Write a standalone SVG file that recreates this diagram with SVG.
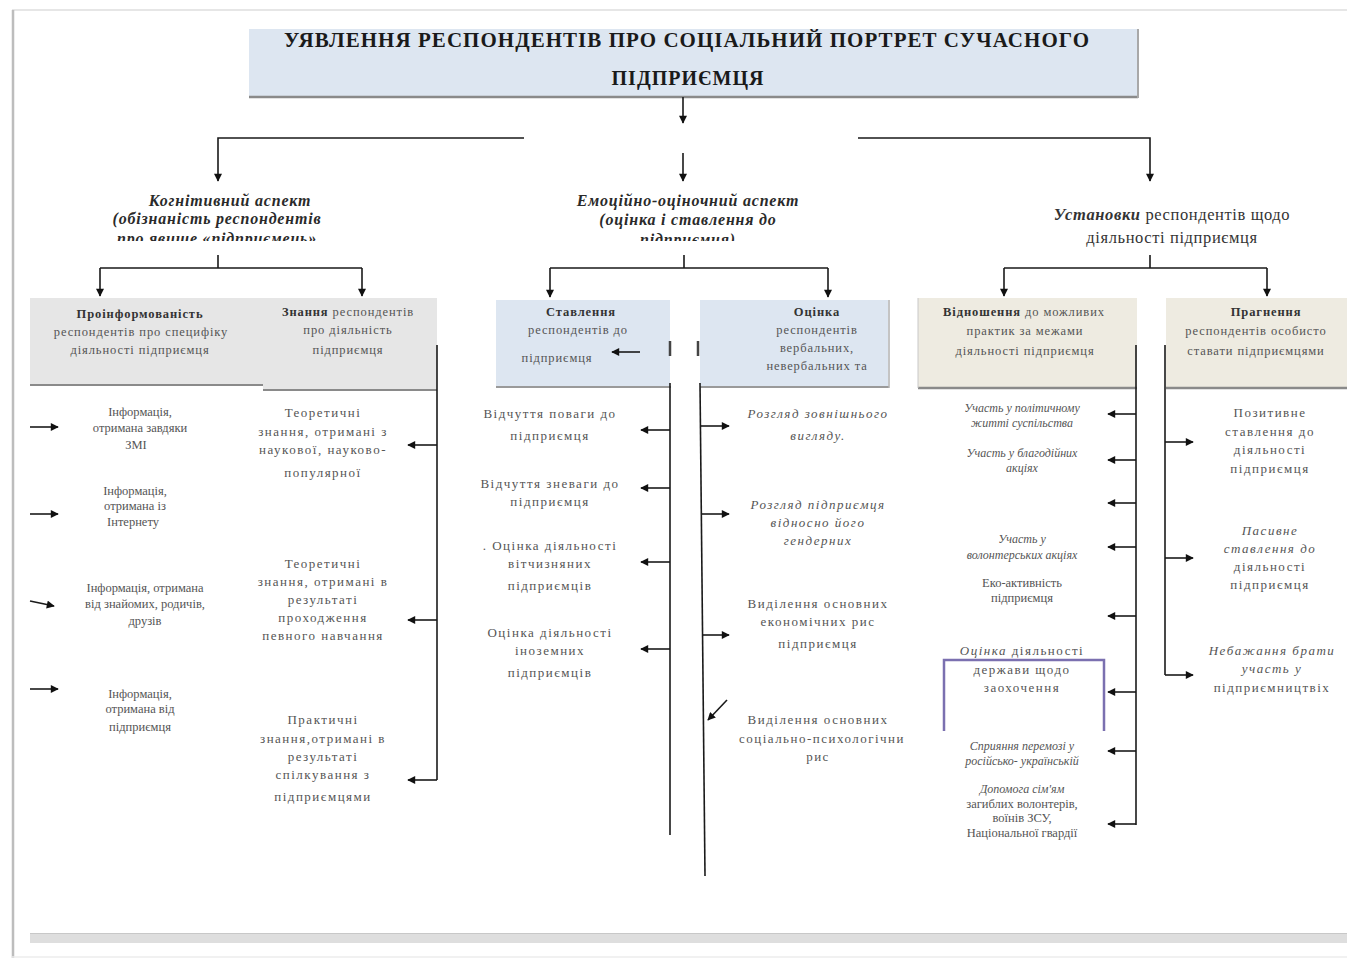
<svg xmlns="http://www.w3.org/2000/svg" width="1347" height="958" viewBox="0 0 1347 958">
<defs>
<marker id="ah" viewBox="0 0 10 10" refX="9" refY="5" markerWidth="9" markerHeight="8" orient="auto" markerUnits="userSpaceOnUse">
<path d="M0,0 L10,5 L0,10 z" fill="#111"/>
</marker>
<clipPath id="hclip"><rect x="0" y="0" width="1347" height="241"/></clipPath>
<style>
.t{font-family:"Liberation Serif","DejaVu Serif",serif;fill:#444;text-anchor:middle}
.title{font-family:"Liberation Serif","DejaVu Serif",serif;font-weight:bold;font-size:20px;fill:#1a1a1a;text-anchor:middle;letter-spacing:1px}
.hd{font-family:"Liberation Serif","DejaVu Serif",serif;font-weight:bold;font-style:italic;font-size:16px;letter-spacing:0.8px;fill:#2a2a2a;text-anchor:middle}
.hr{font-family:"Liberation Serif","DejaVu Serif",serif;font-size:16.5px;letter-spacing:0.6px;fill:#333;text-anchor:middle}
.bx{font-size:12.5px;letter-spacing:0.9px;fill:#555}
.it{font-size:13px;letter-spacing:1.5px;fill:#555}
.sm{font-size:12.5px;fill:#555}
.xs{font-size:12px;fill:#555;font-style:italic}
.i{font-style:italic}
.b{font-weight:bold;fill:#333}
.ln{stroke:#1a1a1a;stroke-width:1.6;fill:none}
.ar{stroke:#1a1a1a;stroke-width:1.6;fill:none;marker-end:url(#ah)}
</style>
</defs>
<rect x="0" y="0" width="1347" height="958" fill="#ffffff"/>
<g id="frame">
<line x1="12" y1="10" x2="1347" y2="10" stroke="#e6e6e6" stroke-width="2"/>
<line x1="13" y1="10" x2="13" y2="958" stroke="#bdbdbd" stroke-width="2.5"/>
<rect x="30" y="933" width="1317" height="10" fill="#dedede"/>
<line x1="30" y1="933.5" x2="1347" y2="933.5" stroke="#c8c8c8" stroke-width="1"/>
<line x1="12" y1="957" x2="1347" y2="957" stroke="#ececec" stroke-width="1.5"/>
</g>
<g id="title">
<rect x="249" y="29" width="889" height="68" fill="#dde6f1"/>
<line x1="249" y1="97" x2="1138" y2="97" stroke="#8a8a8a" stroke-width="2.5"/>
<line x1="1138" y1="29" x2="1138" y2="98" stroke="#a8a8a8" stroke-width="2"/>
<text class="title" x="687" y="47" textLength="806" lengthAdjust="spacingAndGlyphs">УЯВЛЕННЯ  РЕСПОНДЕНТІВ ПРО СОЦІАЛЬНИЙ ПОРТРЕТ СУЧАСНОГО</text>
<text class="title" x="688" y="85">ПІДПРИЄМЦЯ</text>
</g>
<g id="head-cognitive" clip-path="url(#hclip)">
<text class="hd" x="230" y="206">Когнітивний аспект</text>
<text class="hd" x="217" y="224">(обізнаність респондентів</text>
<text class="hd" x="217" y="244">про явище «підприємець»</text>
</g>
<g id="head-emotional" clip-path="url(#hclip)">
<text class="hd" x="688" y="206">Емоційно-оціночний аспект</text>
<text class="hd" x="688" y="225">(оцінка і ставлення до</text>
<text class="hd" x="688" y="245">підприємця)</text>
</g>
<g id="head-attitudes">
<text class="hr" x="1172" y="220"><tspan class="b i">Установки</tspan> респондентів щодо</text>
<text class="hr" x="1172" y="243">діяльності підприємця</text>
</g>
<g id="box-informed">
<rect x="30" y="298" width="233" height="87" fill="#e6e6e6"/>
<line x1="30" y1="385" x2="263" y2="385" stroke="#8a8a8a" stroke-width="2"/>
<text class="t bx" x="140" y="318"><tspan class="b">Проінформованість</tspan></text>
<text class="t bx" x="141" y="336">респондентів   про   специфіку</text>
<text class="t bx" x="140" y="354">діяльності   підприємця</text>
</g>
<g id="box-knowledge">
<rect x="263" y="298" width="174" height="92" fill="#e6e6e6"/>
<line x1="263" y1="390" x2="437" y2="390" stroke="#8a8a8a" stroke-width="2"/>
<text class="t bx" x="348" y="316"><tspan class="b">Знання</tspan>   респондентів</text>
<text class="t bx" x="348" y="334">про  діяльність</text>
<text class="t bx" x="348" y="354">підприємця</text>
</g>
<g id="box-stavlennia">
<rect x="496" y="300" width="174" height="87" fill="#dde6f1"/>
<line x1="496" y1="387" x2="671" y2="387" stroke="#9a9a9a" stroke-width="2"/>
<text class="t bx" x="581" y="316"><tspan class="b">Ставлення</tspan></text>
<text class="t bx" x="578" y="334">респондентів   до</text>
<text class="t bx" x="557" y="362">підприємця</text>
</g>
<g id="box-otsinka">
<rect x="700" y="300" width="188" height="87" fill="#dde6f1"/>
<line x1="700" y1="387" x2="889" y2="387" stroke="#9a9a9a" stroke-width="2"/>
<line x1="889" y1="300" x2="889" y2="388" stroke="#b0b0b0" stroke-width="1.5"/>
<text class="t bx" x="817" y="316"><tspan class="b">Оцінка</tspan></text>
<text class="t bx" x="817" y="334">респондентів</text>
<text class="t bx" x="817" y="352">вербальних,</text>
<text class="t bx" x="817" y="370">невербальних    та</text>
</g>
<g id="box-vidnoshennia">
<rect x="918" y="298" width="219" height="90" fill="#eeebe1"/>
<line x1="918" y1="388" x2="1137" y2="388" stroke="#8a8a8a" stroke-width="2.5"/>
<line x1="918" y1="298" x2="918" y2="388" stroke="#c8c8c8" stroke-width="1"/>
<text class="t bx" x="1024" y="316"><tspan class="b">Відношення</tspan>    до можливих</text>
<text class="t bx" x="1025" y="335">практик  за межами</text>
<text class="t bx" x="1025" y="355">діяльності   підприємця</text>
</g>
<g id="box-pragnennia">
<rect x="1166" y="298" width="181" height="90" fill="#eeebe1"/>
<line x1="1166" y1="388" x2="1347" y2="388" stroke="#8a8a8a" stroke-width="2.5"/>
<text class="t bx" x="1266" y="316"><tspan class="b">Прагнення</tspan></text>
<text class="t bx" x="1256" y="335">респондентів  особисто</text>
<text class="t bx" x="1256" y="355">ставати підприємцями</text>
</g>
<g id="left-items">
<g id="info-zmi"><text class="t sm" x="140" y="416">Інформація,</text><text class="t sm" x="140" y="432">отримана завдяки</text><text class="t sm" x="136" y="449">ЗМІ</text></g>
<g id="info-internet"><text class="t sm" x="135" y="495">Інформація,</text><text class="t sm" x="135" y="510">отримана із</text><text class="t sm" x="133" y="526">Інтернету</text></g>
<g id="info-friends"><text class="t sm" x="145" y="592">Інформація, отримана</text><text class="t sm" x="145" y="608">від знайомих, родичів,</text><text class="t sm" x="145" y="625">друзів</text></g>
<g id="info-entrepreneur"><text class="t sm" x="140" y="698">Інформація,</text><text class="t sm" x="140" y="713">отримана від</text><text class="t sm" x="140" y="731">підприємця</text></g>
<g id="know-theory1"><text class="t it" x="323" y="417">Теоретичні</text><text class="t it" x="323" y="436">знання, отримані з</text><text class="t it" x="323" y="454">наукової, науково-</text><text class="t it" x="323" y="477">популярної</text></g>
<g id="know-theory2"><text class="t it" x="323" y="568">Теоретичні</text><text class="t it" x="323" y="586">знання, отримані в</text><text class="t it" x="323" y="604">результаті</text><text class="t it" x="323" y="622">проходження</text><text class="t it" x="323" y="640">певного навчання</text></g>
<g id="know-practice"><text class="t it" x="323" y="724">Практичні</text><text class="t it" x="323" y="743">знання,отримані в</text><text class="t it" x="323" y="761">результаті</text><text class="t it" x="323" y="779">спілкування з</text><text class="t it" x="323" y="801">підприємцями</text></g>
</g>
<g id="middle-items">
<g id="respect"><text class="t it" x="550" y="418">Відчуття поваги до</text><text class="t it" x="550" y="440">підприємця</text></g>
<g id="contempt"><text class="t it" x="550" y="488">Відчуття зневаги до</text><text class="t it" x="550" y="506">підприємця</text></g>
<g id="domestic"><text class="t it" x="550" y="550">. Оцінка діяльності</text><text class="t it" x="550" y="568">вітчизняних</text><text class="t it" x="550" y="590">підприємців</text></g>
<g id="foreign"><text class="t it" x="550" y="637">Оцінка діяльності</text><text class="t it" x="550" y="655">іноземних</text><text class="t it" x="550" y="677">підприємців</text></g>
<g id="appearance"><text class="t it i" x="818" y="418">Розгляд зовнішнього</text><text class="t it i" x="818" y="440">вигляду.</text></g>
<g id="gender"><text class="t it i" x="818" y="509">Розгляд підприємця</text><text class="t it i" x="818" y="527">відносно його</text><text class="t it i" x="818" y="545">гендерних</text></g>
<g id="economic"><text class="t it" x="818" y="608">Виділення основних</text><text class="t it" x="818" y="626">економічних рис</text><text class="t it" x="818" y="648">підприємця</text></g>
<g id="psych"><text class="t it" x="818" y="724">Виділення основних</text><text class="t it" x="822" y="743" textLength="166" lengthAdjust="spacingAndGlyphs">соціально-психологічни</text><text class="t it" x="818" y="761">рис</text></g>
</g>
<g id="right-items">
<g id="politics"><text class="t xs" x="1022" y="412">Участь у політичному</text><text class="t xs" x="1022" y="427">житті суспільства</text></g>
<g id="charity"><text class="t xs" x="1022" y="457">Участь у благодійних</text><text class="t xs" x="1022" y="472">акціях</text></g>
<g id="volunteer"><text class="t xs" x="1022" y="543">Участь у</text><text class="t xs" x="1022" y="559">волонтерських акціях</text></g>
<g id="eco"><text class="t sm" x="1022" y="587">Еко-активність</text><text class="t sm" x="1022" y="602">підприємця</text></g>
<g id="state"><text class="t it" x="1022" y="655"><tspan class="i">Оцінка</tspan> діяльності</text><text class="t it" x="1022" y="674">держави щодо</text><text class="t it" x="1022" y="692">заохочення</text>
<path d="M944,731 V660 H1104 V731" fill="none" stroke="#7b70b0" stroke-width="2.5"/></g>
<g id="victory"><text class="t xs" x="1022" y="750">Сприяння перемозі у</text><text class="t xs" x="1022" y="765">російсько- українській</text></g>
<g id="help"><text class="t xs" x="1022" y="793">Допомога сім'ям</text><text class="t sm" x="1022" y="808">загиблих волонтерів,</text><text class="t sm" x="1022" y="822">воїнів ЗСУ,</text><text class="t sm" x="1022" y="837">Національної гвардії</text></g>
<g id="positive"><text class="t it" x="1270" y="417">Позитивне</text><text class="t it" x="1270" y="436">ставлення до</text><text class="t it" x="1270" y="454">діяльності</text><text class="t it" x="1270" y="473">підприємця</text></g>
<g id="passive"><text class="t it i" x="1270" y="535">Пасивне</text><text class="t it i" x="1270" y="553">ставлення до</text><text class="t it" x="1270" y="571">діяльності</text><text class="t it" x="1270" y="589">підприємця</text></g>
<g id="unwilling"><text class="t it i" x="1272" y="655">Небажання брати</text><text class="t it i" x="1272" y="673">участь у</text><text class="t it" x="1272" y="692">підприємництвіх</text></g>
</g>
<g id="connectors">
<path class="ar" d="M683,97 V123"/>
<path class="ar" d="M524,138 H218 V181"/>
<path class="ar" d="M858,138 H1150 V181"/>
<path class="ar" d="M683,153 V181"/>
<path class="ln" d="M218,255 V268 M100,268 H362"/>
<path class="ar" d="M100,268 V296"/>
<path class="ar" d="M362,268 V296"/>
<path class="ln" d="M684,255 V268 M550,268 H828"/>
<path class="ar" d="M550,268 V297"/>
<path class="ar" d="M828,268 V297"/>
<path class="ln" d="M1150,255 V268 M1004,268 H1267"/>
<path class="ar" d="M1004,268 V296"/>
<path class="ar" d="M1267,268 V296"/>
<path class="ar" d="M30,427 H58"/>
<path class="ar" d="M30,514 H58"/>
<path class="ar" d="M30,601 L54,606"/>
<path class="ar" d="M30,689 H58"/>
<path class="ln" d="M437,345 V780"/>
<path class="ar" d="M437,445 H408"/>
<path class="ar" d="M437,620 H408"/>
<path class="ar" d="M437,780 H408"/>
<path class="ar" d="M640,352 H612"/>
<path d="M670,341 V356 M698,341 V356" stroke="#444" stroke-width="2.5"/>
<path class="ln" d="M670,383 V835"/>
<path class="ln" d="M700,383 L705,876"/>
<path class="ar" d="M670,430 H641"/>
<path class="ar" d="M670,488 H641"/>
<path class="ar" d="M670,562 H641"/>
<path class="ar" d="M670,649 H641"/>
<path class="ar" d="M701,426 H729"/>
<path class="ar" d="M702,514 H729"/>
<path class="ar" d="M703,635 H729"/>
<path class="ar" d="M727,700 L708,720"/>
<path class="ln" d="M1136,345 V825"/>
<path class="ar" d="M1136,414 H1108"/>
<path class="ar" d="M1136,460 H1108"/>
<path class="ar" d="M1136,503 H1108"/>
<path class="ar" d="M1136,547 H1108"/>
<path class="ar" d="M1136,616 H1108"/>
<path class="ar" d="M1136,692 H1108"/>
<path class="ar" d="M1136,751 H1108"/>
<path class="ar" d="M1136,824 H1108"/>
<path class="ln" d="M1165,345 V675"/>
<path class="ar" d="M1165,442 H1193"/>
<path class="ar" d="M1165,558 H1193"/>
<path class="ar" d="M1165,675 H1193"/>
</g>
</svg>
